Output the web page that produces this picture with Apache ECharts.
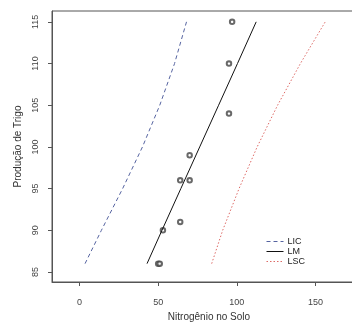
<!DOCTYPE html>
<html>
<head>
<meta charset="utf-8">
<script src="https://cdn.jsdelivr.net/npm/echarts@6/dist/echarts.min.js"></script>
<style>
  html, body { margin: 0; padding: 0; background: #fff; }
  #chart { width: 352px; height: 322px; }
</style>
</head>
<body>
<div id="chart"></div>
<script>
// tick labels
const xTicks = [0, 50, 100, 150]
const yTicks = [85, 90, 95, 100, 105, 110, 115]

// observed points (nitrogen, wheat production)
const pointsX = [50, 51, 53, 64, 64, 70, 70, 95, 95, 97]
const pointsY = [86, 86, 90, 91, 96, 96, 99, 104, 110, 115]

// fitted line and confidence limits, read at these production levels
const levels = [86, 90, 95, 100, 105, 110, 115]
const licX = [3.5, 13.9, 27.4, 40, 51, 60.4, 68]
const lmX = [42.9, 52.4, 64.4, 76.4, 88.4, 100.4, 112.3]
const lscX = [84, 91, 101.4, 112.9, 125.9, 140.4, 156.2]

const pair = (xs, ys) => xs.map((x, i) => [x, ys[i]])

const font = 'Liberation Sans, Arial, sans-serif'
const axisGrey = '#555'

const chart = echarts.init(document.getElementById('chart'))

const options = {
	animation: false,
	// plot box runs past the right edge of the picture
	grid: {
		left: 52,
		top: 11,
		width: 314,
		height: 271,
		outerBoundsMode: 'none',
		containLabel: false,
		show: true,
		borderColor: axisGrey,
		borderWidth: 1,
	},
	legend: {
		data: ['LIC', 'LM', 'LSC'],
		orient: 'vertical',
		left: 266,
		top: 237,
		padding: 0,
		itemGap: 1,
		itemWidth: 17,
		itemHeight: 8,
		// hide the marker dot, keep only the line sample
		itemStyle: { opacity: 0 },
		lineStyle: { width: 1 },
		textStyle: {
			fontFamily: font,
			fontSize: 9,
			color: '#222',
			padding: [0, 0, 0, -1],
		},
	},
	xAxis: {
		type: 'value',
		min: -17.5,
		max: 182.1,
		name: 'Nitrogênio no Solo',
		nameLocation: 'middle',
		nameGap: 28,
		nameTextStyle: { fontFamily: font, fontSize: 10, color: '#333' },
		axisLine: { show: true, onZero: false, lineStyle: { color: axisGrey } },
		splitLine: { show: false },
		axisTick: {
			show: true,
			length: 4,
			customValues: xTicks,
			lineStyle: { color: axisGrey },
		},
		axisLabel: {
			customValues: xTicks,
			margin: 16,
			fontFamily: font,
			fontSize: 9,
			color: '#444',
		},
	},
	yAxis: {
		type: 'value',
		min: 83.8,
		max: 116.3,
		name: 'Produção de Trigo',
		nameLocation: 'middle',
		nameRotate: 90,
		nameGap: 28,
		nameTextStyle: { fontFamily: font, fontSize: 10, color: '#333' },
		axisLine: { show: true, onZero: false, lineStyle: { color: axisGrey } },
		splitLine: { show: false },
		axisTick: {
			show: true,
			length: 4,
			customValues: yTicks,
			lineStyle: { color: axisGrey },
		},
		axisLabel: {
			customValues: yTicks,
			rotate: 90,
			margin: 12,
			fontFamily: font,
			fontSize: 9,
			color: '#444',
		},
	},
	series: [
		{
			name: 'pontos',
			type: 'scatter',
			data: pair(pointsX, pointsY),
			symbol: 'emptyCircle',
			symbolSize: 4.5,
			itemStyle: { color: '#444', borderWidth: 0.7 },
		},
		{
			name: 'LIC',
			type: 'line',
			data: pair(licX, levels),
			symbol: 'none',
			lineStyle: { color: '#5563a0', width: 1, type: [4, 3] },
			itemStyle: { color: '#5563a0' },
		},
		{
			name: 'LM',
			type: 'line',
			data: pair(lmX, levels),
			symbol: 'none',
			lineStyle: { color: '#111', width: 1 },
			itemStyle: { color: '#111' },
		},
		{
			name: 'LSC',
			type: 'line',
			data: pair(lscX, levels),
			symbol: 'none',
			lineStyle: { color: '#dd6a66', width: 1, type: [1.5, 2] },
			itemStyle: { color: '#dd6a66' },
		},
	],
}

chart.setOption(options)
</script>
</body>
</html>
